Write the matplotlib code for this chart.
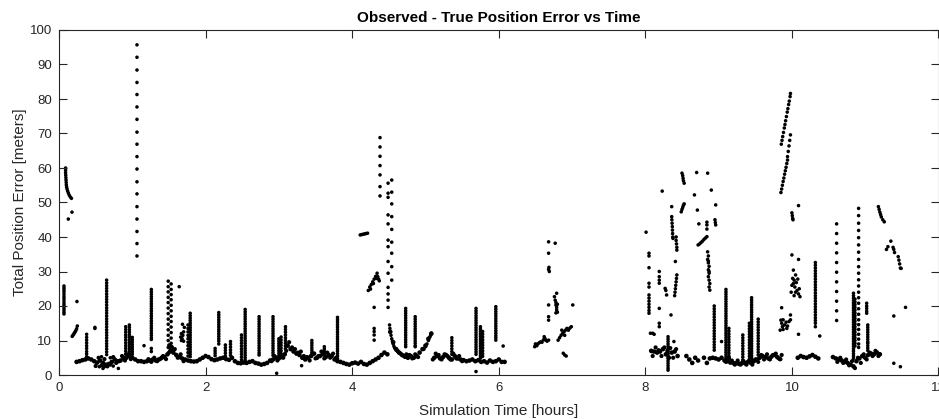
import numpy as np
import matplotlib
matplotlib.use('Agg')
import matplotlib.pyplot as plt

plt.rcParams['font.family'] = ['Liberation Sans', 'DejaVu Sans']

# --- dane ---
# pasmo bazowe: segmenty probkowane co 0.04 h (start, wartosci)
base_step = 0.04
base_start = [0.24, 8.08, 8.56, 8.80, 10.08, 10.56]
base_vals = [
    [3.8, 4.0, 4.3, 4.5, 4.8, 4.5, 4.0, 3.6, 4.2, 3.5, 3.0, 3.2, 3.8, 4.5, 4.0,
     4.2, 4.8, 5.0, 5.5, 5.0, 4.5, 4.0, 4.0, 3.8, 4.0, 4.2, 4.5, 4.2, 4.5, 5.0,
     5.2, 6.0, 7.0, 6.5, 5.8, 5.2, 4.8, 4.5, 4.2, 4.0, 3.9, 4.0, 4.5, 5.0, 5.5,
     5.2, 4.6, 4.3, 4.5, 4.8, 5.0, 4.6, 4.4, 5.0, 4.0, 3.5, 3.4, 3.6, 3.5, 3.8,
     4.0, 3.5, 3.3, 3.0, 3.2, 3.5, 4.2, 4.5, 5.0, 4.8, 5.2, 6.0, 8.5, 7.5, 6.8,
     6.2, 5.8, 5.0, 4.5, 5.0, 5.5, 6.2, 5.0, 5.5, 6.0, 5.2, 5.8, 5.5, 4.5, 4.0,
     3.8, 3.5, 3.2, 3.0, 3.4, 3.6, 3.3, 3.8, 3.2, 3.0, 3.5, 4.0, 4.5, 5.0, 5.8,
     6.5, 6.0, 12.5, 9.5, 7.5, 6.5, 5.8, 5.3, 5.0, 5.5, 5.0, 5.5, 6.5, 7.5, 8.5,
     10.5, 12.0, 5.0, 5.5, 4.8, 5.2, 5.8, 5.0, 4.5, 5.5, 4.8, 4.5, 4.3, 4.0, 4.2,
     4.5, 4.0, 4.3, 3.8, 4.0, 3.6, 4.2, 3.8, 4.0, 4.5, 3.8, 3.8],
    [7.0, 6.8, 6.5, 6.8, 7.5, 6.0, 5.0, 6.5, 6.8, 5.5],
    [5.5, 4.5, 3.5, 5.0, 4.2],
    [5.0, 3.5, 4.8, 5.0, 4.8, 4.5, 5.0, 4.2, 4.0, 3.6, 3.5, 3.4, 3.2, 3.5, 3.4,
     3.8, 3.5, 4.0, 4.5, 5.0, 5.5, 5.2, 4.8, 5.3, 5.8, 5.2, 4.6],
    [5.0, 5.5, 5.2, 5.0, 5.4, 5.8, 5.3, 4.8],
    [5.2, 4.8, 4.5, 4.2, 3.8, 3.5, 3.0, 2.5, 4.0, 4.8, 5.5, 5.0, 5.8, 6.2, 6.0,
     6.5, 6.0],
]
# druga warstwa pasma tam, gdzie jest ono grubsze
base2_start = [0.50, 1.22, 2.90, 4.62, 5.10, 8.10, 9.10, 10.62]
base2_vals = [
    [2.6, 5.0, 2.8, 4.6, 2.5, 3.0, 5.2, 3.5, 4.0, 5.5, 4.2, 6.0, 4.6],
    [4.6, 3.8, 5.0, 4.0, 4.6, 5.5, 4.6, 6.5, 8.0, 7.5, 5.0, 6.0, 4.0],
    [4.0, 5.5, 4.2, 6.0, 5.0, 7.0, 9.5, 8.0, 7.5, 6.5, 6.8, 5.5, 5.2, 4.2, 6.2,
     4.8, 5.5, 6.8, 4.8, 6.5, 5.0, 6.2, 5.0],
    [7.0, 6.2, 5.6, 6.0, 5.8, 4.8, 6.0, 5.2],
    [4.5, 6.2, 5.8, 4.5, 6.0, 5.5, 4.5, 6.2, 4.8, 5.5, 4.0],
    [5.5, 8.0, 7.2, 5.5, 8.0, 7.0, 7.8, 5.0, 7.5],
    [3.8, 5.0, 4.2, 3.0, 4.2, 3.0, 4.0, 3.0, 4.2, 3.0, 4.5, 3.8, 5.8, 4.5, 6.0,
     4.5, 5.8, 6.2, 4.8, 5.8],
    [3.8, 5.0, 3.5, 4.5, 2.8, 4.0, 2.0, 5.0, 3.5, 6.0, 4.5, 6.5, 5.5, 7.0, 5.5],
]

# pionowe kolumny punktow (czas, wartosci)
col_t = [1.064, 0.068, 0.377, 0.65, 0.91, 0.96, 1.0, 1.26, 1.49, 1.53, 1.79, 1.76,
         2.13, 2.18, 2.27, 2.34, 2.49, 2.54, 2.73, 2.92, 3.0, 3.03, 3.09, 3.45,
         3.62, 3.80, 4.30, 4.38, 4.49, 4.54, 4.73, 4.86, 5.36, 5.69, 5.75, 5.78,
         5.96, 8.05, 8.19, 8.31, 8.94, 9.10, 9.14, 9.33, 9.42, 9.45, 9.54, 10.32,
         10.61, 10.84, 10.86, 10.91, 11.02, 11.035]
col_v = [
    [95.7, 92.1, 88.4, 84.8, 81.3, 77.7, 74.1, 70.4, 66.9, 63.3, 59.7, 56.0, 52.5,
     48.8, 45.2, 41.6, 38.1, 34.5],
    [25.8, 25.2, 24.6, 24.0, 23.3, 22.6, 22.0, 21.3, 20.6, 20.0, 19.4, 18.8, 18.2, 17.7],
    [11.8, 10.9, 10.1, 9.3, 8.5, 7.7, 6.8, 6.1, 5.3],
    [27.5, 26.7, 25.9, 25.1, 24.3, 23.5, 22.7, 21.9, 21.1, 20.3, 19.5, 18.7, 17.9,
     17.1, 16.3, 15.5, 14.7, 13.9, 13.1, 12.3, 11.5, 10.7, 9.9, 9.1, 8.3, 7.5, 6.7, 5.9],
    [14.0, 13.2, 12.4, 11.6, 10.9, 10.1, 9.3, 8.5, 7.7, 6.9, 6.1, 5.3],
    [14.5, 13.8, 13.1, 12.4, 11.7, 11.0, 10.3, 9.6, 8.9, 8.2, 7.5, 6.8, 6.1],
    [10.9, 10.2, 9.5, 8.8, 8.1, 7.4, 6.7, 6.0],
    [24.8, 24.1, 23.4, 22.7, 22.0, 21.3, 20.6, 19.9, 19.2, 18.5, 17.8, 17.1, 16.4,
     15.7, 15.0, 14.3, 13.6, 12.9, 12.2, 11.5, 10.8, 10.3, 7.7, 6.8],
    [27.2, 25.6, 24.1, 22.5, 21.0, 19.4, 17.8, 16.2, 14.7, 13.1, 11.5, 10.0],
    [26.4, 24.8, 23.3, 21.8, 20.2, 18.6, 17.0, 15.5, 13.9, 12.3, 10.7, 9.2],
    [17.9, 17.2, 16.5, 15.8, 15.1, 14.4, 13.7, 13.0, 12.3, 11.6, 10.9, 10.2, 9.5,
     8.8, 8.1, 7.4, 6.7, 6.0, 5.3],
    [14.5, 13.5, 12.5, 11.5, 10.5, 9.5, 8.5, 7.5, 6.5, 5.5],
    [7.7, 7.0, 6.3, 5.6],
    [18.1, 17.4, 16.7, 16.0, 15.3, 14.6, 13.9, 13.2, 12.6, 11.9, 11.2, 10.5, 9.8, 9.0],
    [8.7, 7.9, 7.1, 6.3, 5.5],
    [9.7, 8.9, 8.1, 7.3, 6.5, 5.7],
    [11.6, 10.8, 10.0, 9.2, 8.4, 7.6, 6.8, 6.0, 5.2, 4.4],
    [19.0, 18.3, 17.6, 16.9, 16.2, 15.5, 14.8, 14.1, 13.4, 12.7, 12.0, 11.3, 10.6,
     9.9, 9.2, 8.5, 7.8, 7.1, 6.4, 5.7, 5.0, 4.3],
    [16.9, 16.2, 15.5, 14.8, 14.1, 13.4, 12.7, 12.0, 11.3, 10.6, 9.9, 9.2, 8.5, 7.8,
     7.1, 6.4, 5.8],
    [16.9, 16.2, 15.5, 14.8, 14.1, 13.4, 12.7, 12.0, 11.3, 10.6, 9.9, 9.2, 8.5, 7.8,
     7.1, 6.4, 5.7],
    [10.5, 9.8, 9.1, 8.4, 7.7, 7.0, 6.3, 5.6],
    [11.0, 10.2, 9.4, 8.6, 7.8, 7.0, 6.2, 5.4],
    [14.0, 13.2, 12.4, 11.6, 10.8, 10.0, 9.2, 8.4, 7.6],
    [10.0, 9.3, 8.6, 7.9, 7.2, 6.5, 5.8],
    [8.2, 7.5, 6.8, 6.1],
    [16.7, 16.0, 15.3, 14.6, 13.9, 13.2, 12.5, 11.8, 11.1, 10.4, 9.7, 9.0, 8.3, 7.6,
     6.9, 6.2, 5.5, 4.8, 4.1],
    [19.6, 13.5, 12.6, 11.6, 10.1],
    [68.8, 66.1, 63.4, 60.7, 58.0, 54.6, 51.9],
    [55.6, 52.7, 51.5, 46.4, 43.8, 39.1, 37.2, 32.9, 29.5, 25.4, 23.5, 21.7, 19.6],
    [56.5, 53.0, 49.6, 45.9, 42.2, 38.5, 35.3, 31.4, 27.5],
    [19.3, 18.6, 17.9, 17.2, 16.5, 15.8, 15.1, 14.4, 13.7, 13.0, 12.3, 11.6, 10.9,
     10.2, 9.5, 8.8, 8.2],
    [16.9, 16.2, 15.5, 14.8, 14.1, 13.4, 12.7, 12.0, 11.3, 10.6, 9.9, 9.2, 8.5, 8.2],
    [10.8, 10.0, 9.2, 8.4, 7.6, 6.8, 6.0],
    [19.3, 18.6, 17.9, 17.2, 16.5, 15.8, 15.1, 14.4, 13.7, 13.0, 12.3, 11.6, 10.9,
     10.2, 9.5, 8.8, 8.1, 7.4, 6.7, 6.0, 1.0],
    [14.0, 13.3, 12.6, 11.9, 11.2, 10.5, 9.8, 9.1, 8.4, 7.7, 7.0, 6.3, 5.6, 4.9],
    [12.6, 11.8, 11.0, 10.2, 9.4, 8.6, 7.8, 7.0, 6.2, 5.4],
    [19.8, 19.1, 18.4, 17.7, 17.0, 16.3, 15.6, 14.9, 14.2, 13.5, 12.8, 12.1, 11.4,
     10.8, 10.1],
    [35.3, 34.5, 31.1, 26.6, 25.5, 23.2, 22.3, 21.4, 20.5, 19.6, 18.7, 17.9],
    [30.0, 28.5, 27.5, 26.6, 19.3, 15.0, 14.0],
    [11.1, 10.4, 9.7, 9.0, 8.3, 7.6, 6.9, 6.2, 5.5, 4.8, 4.1, 3.4, 2.7, 2.0, 1.4],
    [20.0, 19.2, 18.4, 17.6, 16.8, 16.0, 15.2, 14.4, 13.6, 12.8, 12.0, 11.2, 10.4,
     9.6, 8.8, 8.0, 7.2],
    [24.8, 24.1, 23.4, 22.7, 22.0, 21.3, 20.6, 19.9, 19.2, 18.5, 17.8, 17.1, 16.4,
     15.7, 15.0, 14.3, 13.6, 12.9, 12.2, 11.5, 10.8, 10.1, 9.4, 8.7, 8.0, 7.3, 6.6,
     5.9, 5.2, 4.5],
    [13.5, 12.7, 11.9, 11.1, 10.3, 9.5, 8.7, 7.9, 7.1, 6.3, 5.5, 4.7],
    [11.6, 10.8, 10.0, 9.2, 8.4, 7.6, 6.8, 6.0, 5.2, 4.4],
    [15.0, 14.2, 13.4, 12.6, 11.8, 11.0, 10.2, 9.4, 8.6, 7.8, 7.0, 6.2, 5.4, 4.6],
    [22.4, 21.7, 21.0, 20.3, 19.6, 18.9, 18.2, 17.5, 16.8, 16.1, 15.4, 14.7, 14.0,
     13.3, 12.6, 11.9, 11.2, 10.5, 9.8, 9.1, 8.4, 7.7, 7.0, 6.3, 5.6, 4.9, 4.2],
    [16.2, 15.4, 14.6, 13.8, 13.0, 12.2, 11.4, 10.6, 9.8, 9.0, 8.2, 7.4, 6.6, 5.8],
    [32.6, 31.8, 31.0, 30.2, 29.4, 28.6, 27.8, 27.0, 26.2, 25.4, 24.6, 23.8, 23.0,
     22.2, 21.4, 20.6, 19.8, 19.0, 18.2, 17.4, 16.6, 15.8, 15.0, 14.0],
    [43.8, 41.0, 38.2, 35.4, 32.6, 29.8, 27.0, 24.2, 21.4, 18.6, 15.8],
    [23.7, 23.0, 22.3, 21.6, 20.9, 20.2, 19.5, 18.8, 18.1, 17.4, 16.7, 16.0, 15.3,
     14.6, 13.9, 13.2, 12.5, 11.8, 11.1, 10.4, 9.7, 9.0, 8.3, 7.6, 6.9, 6.2, 5.5, 4.8],
    [22.0, 21.2, 20.4, 19.6, 18.8, 18.0, 17.2, 16.4, 15.6, 14.8, 14.0, 13.2, 12.4,
     11.6, 10.8, 10.0, 9.2, 8.4],
    [48.3, 46.2, 44.0, 41.9, 39.8, 37.7, 35.6, 33.5, 31.4, 29.5, 27.6, 25.8, 24.0,
     22.4, 20.8, 19.2, 17.6, 16.0, 14.6, 13.2, 11.8, 10.4, 9.0, 8.0],
    [20.8, 20.0, 19.3, 18.5, 17.9],
    [14.5, 13.8, 13.1, 12.4, 11.7, 11.0, 10.3, 9.6, 9.2, 8.5, 7.8, 7.1],
]

# pojedyncze punkty i skupiska
pts_t = [0.127, 0.177, 0.245,
         0.18, 0.19, 0.20, 0.21, 0.22, 0.23, 0.24, 0.25,
         0.09, 0.09, 0.09, 0.092, 0.094, 0.096, 0.098, 0.10, 0.104, 0.11, 0.118, 0.128,
         0.14, 0.155, 0.17,
         0.49, 0.49, 0.81, 0.60, 0.62, 0.55, 0.58, 0.66, 0.70, 0.74, 1.16, 1.64,
         1.49, 1.50, 1.51, 1.52, 1.53, 1.54, 1.55, 1.56,
         1.66, 1.67, 1.68, 1.69, 1.70, 1.71, 1.685, 1.67, 1.70,
         2.97, 3.31,
         4.11, 4.13, 4.15, 4.17, 4.19, 4.21,
         4.22, 4.24, 4.26, 4.28, 4.30, 4.32, 4.34, 4.35, 4.36, 4.37, 4.25, 4.29, 4.33,
         4.51, 4.515, 4.52, 4.53, 4.54, 4.55, 4.56, 4.57, 4.58, 4.60, 4.62, 4.64, 4.66,
         4.98, 5.00, 5.02, 5.04, 5.06, 5.08, 5.07, 6.06,
         6.49, 6.51, 6.53, 6.55, 6.57, 6.59, 6.61, 6.63, 6.62, 6.64, 6.66, 6.68, 6.50, 6.52,
         6.68, 6.68, 6.68, 6.685, 6.69, 6.68, 6.68, 6.68,
         6.77, 6.79, 6.76, 6.77, 6.78, 6.78, 6.79, 6.79, 6.80, 6.78, 6.80,
         6.81, 6.83, 6.85, 6.87, 6.89, 6.91, 6.93, 6.95, 6.97, 6.99, 6.86, 6.90, 6.88,
         6.92, 6.90, 7.01,
         8.01, 8.07, 8.10, 8.12, 8.09, 8.23, 8.50, 8.51, 8.515, 8.52, 8.53, 8.70, 8.85,
         8.67, 8.90, 8.27, 8.28, 8.29, 8.39,
         8.36, 8.36, 8.362, 8.365, 8.368, 8.37, 8.372, 8.375, 8.377,
         8.42, 8.42, 8.425, 8.43, 8.43, 8.41,
         8.43, 8.425, 8.42, 8.415, 8.41, 8.405, 8.40, 8.35,
         8.49, 8.50, 8.51, 8.52, 8.53,
         8.71, 8.73, 8.84, 8.84, 8.84, 8.96, 8.95, 8.955, 8.96,
         8.72, 8.74, 8.76, 8.78, 8.80, 8.82, 8.84,
         8.85, 8.86, 8.85, 8.86, 8.87, 8.86, 8.87, 8.86, 8.87, 8.88, 8.87, 8.88, 8.86, 8.87,
         9.04,
         9.86, 9.85, 9.86, 9.87, 9.88, 9.90, 9.92, 9.94, 9.96, 9.98, 9.98, 9.88, 9.93, 9.84,
         9.99, 10.0, 10.01, 10.02, 10.03, 10.04, 10.05, 10.06, 10.07, 10.08, 10.09, 10.10,
         10.11, 10.03, 10.05, 10.02,
         10.0, 10.09, 10.09, 10.0, 10.005, 10.01, 10.015, 10.09,
         9.855, 9.865, 9.874, 9.885, 9.896, 9.905, 9.914, 9.925, 9.936, 9.945, 9.955,
         9.964, 9.975, 9.98,
         9.94, 9.95, 9.96, 9.97, 9.98,
         9.85, 9.86, 9.87, 9.88, 9.89, 9.90, 9.91, 9.92, 9.93, 9.94,
         10.38,
         11.18, 11.19, 11.20, 11.21, 11.22, 11.24, 11.26,
         11.29, 11.31, 11.35, 11.38, 11.39, 11.40,
         11.45, 11.46, 11.47, 11.48, 11.49,
         11.39, 11.55, 11.39, 11.48]
pts_v = [45.2, 47.2, 21.3,
         11.2, 11.5, 11.8, 12.2, 12.5, 12.9, 13.4, 14.2,
         60.0, 59.3, 58.6, 57.9, 57.2, 56.5, 55.8, 55.1, 54.5, 53.9, 53.3, 52.7,
         52.1, 51.6, 51.2,
         13.5, 13.8, 1.9, 1.9, 2.4, 2.4, 5.3, 2.8, 5.0, 2.6, 8.5, 25.6,
         8.0, 8.7, 8.5, 8.0, 7.5, 8.2, 7.0, 6.5,
         11.0, 12.0, 10.5, 11.5, 12.5, 13.8, 14.7, 10.0, 9.8,
         0.5, 2.7,
         40.6, 40.7, 40.8, 40.9, 41.0, 41.1,
         24.5, 25.5, 26.2, 27.0, 27.8, 28.6, 29.5, 28.5, 27.8, 27.3, 24.9, 26.5, 28.0,
         14.5, 13.5, 12.5, 11.5, 10.5, 9.8, 9.0, 8.3, 7.8, 7.2, 6.8, 6.5, 6.2,
         7.5, 8.2, 9.0, 10.0, 11.0, 12.1, 11.5, 8.4,
         8.2, 8.6, 9.0, 9.3, 9.6, 9.5, 10.2, 10.6, 11.1, 10.1, 9.8, 10.1, 9.0, 8.5,
         38.6, 35.3, 30.6, 31.2, 30.0, 20.3, 16.9, 15.9,
         38.2, 23.7, 22.7, 21.7, 21.0, 20.3, 19.6, 18.9, 18.2, 18.0, 20.5,
         10.1, 10.8, 11.5, 12.0, 12.5, 13.0, 13.5, 13.0, 13.6, 14.0, 13.0, 11.5, 6.3,
         5.5, 5.8, 20.3,
         41.4, 12.1, 12.1, 11.8, 6.8, 53.3, 58.5, 57.8, 57.0, 56.3, 55.6, 58.7, 58.5,
         52.2, 53.6, 25.1, 24.5, 23.2, 9.7,
         48.8, 45.9, 45.0, 44.0, 43.0, 42.0, 41.0, 40.0, 39.6,
         40.0, 39.0, 38.0, 37.0, 36.2, 32.9,
         29.0, 28.0, 27.0, 26.0, 25.0, 24.0, 23.0, 17.4,
         47.3, 48.0, 48.6, 49.2, 49.6,
         47.8, 43.8, 44.3, 43.5, 42.3, 49.3, 45.0, 44.2, 43.5,
         37.7, 38.0, 38.4, 38.8, 39.3, 39.7, 40.1,
         35.7, 34.5, 33.5, 32.5, 31.5, 30.5, 29.5, 28.5, 27.5, 26.5, 25.5, 24.6, 33.0, 30.0,
         9.7,
         19.5, 15.9, 15.0, 14.0, 13.2, 14.5, 15.3, 14.2, 15.5, 16.0, 17.4, 16.0, 13.5, 13.0,
         24.0, 26.0, 28.0, 30.4, 27.5, 25.5, 29.0, 26.8, 24.5, 27.8, 23.5, 25.0,
         22.7, 23.0, 24.0, 26.5,
         34.8, 33.5, 11.8, 47.0, 46.2, 45.4, 45.0, 49.1,
         66.9, 68.0, 69.1, 70.3, 71.6, 72.6, 73.7, 74.9, 76.2, 77.2, 78.4,
         79.4, 80.7, 81.6,
         63.3, 64.8, 66.4, 68.0, 69.6,
         52.9, 53.9, 55.0, 56.1, 57.1, 58.2, 59.2, 60.2, 61.3, 62.3,
         11.3,
         48.8, 48.0, 47.2, 46.5, 45.8, 45.0, 44.4,
         36.4, 37.2, 38.8, 37.0, 36.4, 35.5,
         34.3, 33.3, 32.2, 31.0, 30.9,
         17.1, 19.6, 3.4, 2.4]

# --- rysowanie ---
fig = plt.figure(figsize=(9.39, 4.19), dpi=100)
ax = fig.add_axes([59 / 939, 44 / 419, 879.5 / 939, 345 / 419])

for start, vals in zip(base_start, base_vals):
    t = start + base_step * np.arange(len(vals))
    ax.scatter(t, vals, s=11, c='k', edgecolors='none')

for start, vals in zip(base2_start, base2_vals):
    t = start + base_step * np.arange(len(vals))
    ax.scatter(t, vals, s=9, c='k', edgecolors='none')

for t0, vals in zip(col_t, col_v):
    ax.scatter(np.full(len(vals), t0), vals, s=6.5, c='k', edgecolors='none')

ax.scatter(pts_t, pts_v, s=6.5, c='k', edgecolors='none')

ax.set_xlim(0, 12)
ax.set_ylim(0, 100)
ax.set_xticks(np.arange(0, 13, 2))
ax.set_yticks(np.arange(0, 101, 10))

gray = '#262626'
for sp in ax.spines.values():
    sp.set_color(gray)
    sp.set_linewidth(0.8)
ax.tick_params(direction='in', top=True, right=True, length=6, width=0.8,
               color=gray, labelcolor=gray, labelsize=9.5, pad=5)

ax.set_title('Observed - True Position Error vs Time', fontsize=11,
             fontweight='bold', pad=6)
ax.set_xlabel('Simulation Time [hours]', fontsize=11, color=gray, labelpad=7)
ax.set_ylabel('Total Position Error [meters]', fontsize=11, color=gray, labelpad=2)

fig.savefig('out.png', dpi=100)
